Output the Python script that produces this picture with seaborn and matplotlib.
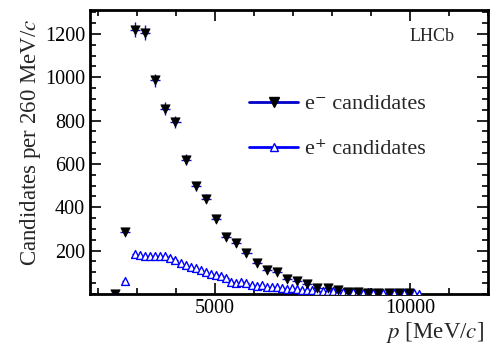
import numpy as np
import pandas as pd
import matplotlib
matplotlib.use("Agg")
import matplotlib.pyplot as plt
import seaborn as sns
from matplotlib.lines import Line2D
from matplotlib.ticker import MultipleLocator

# e- candidates (260 MeV bins)
em_p = [2430 + 260 * i for i in range(30)]
em_n = [0, 287, 1220, 1205, 985, 855, 792, 620, 496, 439, 347, 265, 234, 188, 145,
        111, 103, 69, 60, 45, 29, 26, 18, 11, 8, 6, 5, 4, 3, 3]

# e+ candidates
ep_p = [2430, 2690] + [2950 + 130 * k for k in range(57)]
ep_n = [0, 60,
        185, 180, 176, 176, 177, 176, 177, 165, 157, 142, 134, 126, 119, 111, 100,
        92, 88, 83, 72, 57, 49, 54, 49, 42, 37, 42, 34, 31, 34, 26, 22, 26, 22,
        18, 18, 18,
        16, 14, 12, 14, 10, 9, 8, 8, 7, 6, 7, 5, 5, 4, 5, 4, 3, 3, 2, 3, 2]

labels = ["e\u207b candidates", "e\u207a candidates"]

sns.set_theme(style="ticks")
plt.rcParams['font.family'] = ['Liberation Serif', 'DejaVu Serif']
plt.rcParams['mathtext.fontset'] = 'stix'

fig = plt.figure(figsize=(4.9, 3.46), dpi=100)
ax = fig.add_axes([90 / 490, 1 - 294 / 346, (488 - 90) / 490, (294 - 10) / 346])

em = pd.DataFrame({"p": em_p, "n": em_n})
ep = pd.DataFrame({"p": ep_p, "n": ep_n})

blue = "#0000ff"
ax.errorbar(ep["p"], ep["n"], xerr=65, yerr=np.sqrt(ep["n"]), fmt="none",
            ecolor=blue, elinewidth=1.0, zorder=2)
ax.errorbar(em["p"], em["n"], xerr=130, yerr=np.sqrt(em["n"]), fmt="none",
            ecolor="#1010c0", elinewidth=1.0, zorder=3, linestyle=":")

sns.scatterplot(data=ep, x="p", y="n", marker="^", s=32, facecolor="white",
                edgecolor=blue, linewidth=1.0, ax=ax, zorder=4, legend=False)
sns.scatterplot(data=em, x="p", y="n", marker="v", s=45, color="black",
                edgecolor="black", linewidth=0.5, ax=ax, zorder=5, legend=False)

ax.set_xlim(1800, 12000)
ax.set_ylim(0, 1310)
ax.set_xticks([5000, 10000])
ax.xaxis.set_minor_locator(MultipleLocator(1000))
ax.set_yticks([200, 400, 600, 800, 1000, 1200])
ax.yaxis.set_minor_locator(MultipleLocator(50))
ax.tick_params(which="both", direction="in", top=True, right=True, labelsize=14.5,
               width=1.2, colors="black")
ax.tick_params(which="major", length=8)
ax.tick_params(which="minor", length=4)
for s in ax.spines.values():
    s.set_linewidth(2)
    s.set_color("black")

ax.set_xlabel("$p$ [MeV/$c$]", fontsize=16.5, loc="right")
ax.xaxis.set_label_coords(0.99, -0.09)
ax.set_ylabel("Candidates per 260 MeV/$c$", fontsize=16.5)
ax.yaxis.set_label_coords(-0.118, 0.535)

ax.text(0.917, 0.905, "LHCb", transform=ax.transAxes, ha="right", va="center",
        fontsize=13)

handles = [
    Line2D([0], [0], color="#0000c8", lw=2, marker="v", markersize=7,
           markerfacecolor="black", markeredgecolor="black"),
    Line2D([0], [0], color=blue, lw=2, marker="^", markersize=6,
           markerfacecolor="white", markeredgecolor=blue),
]
ax.legend(handles, labels, loc="upper left", bbox_to_anchor=(0.35, 0.775),
          frameon=False, fontsize=16, handlelength=2.2, labelspacing=1.1,
          handletextpad=0.3)

fig.savefig("out.png", dpi=100)
